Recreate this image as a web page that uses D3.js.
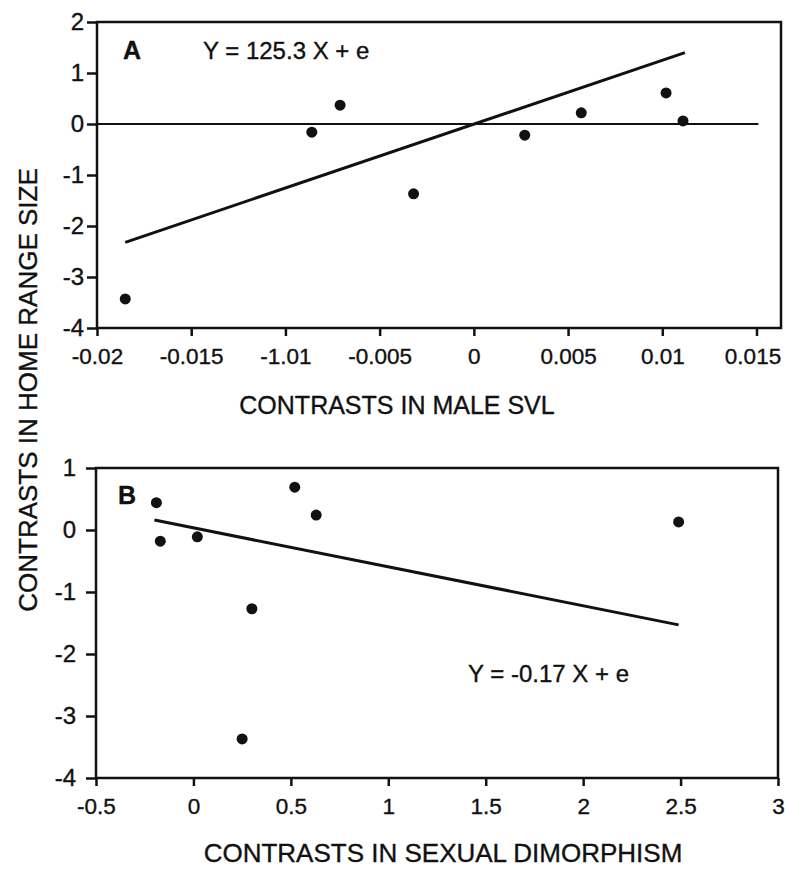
<!DOCTYPE html>
<html>
<head>
<meta charset="utf-8">
<script src="https://cdn.jsdelivr.net/npm/d3@7"></script>
<style>
  body { margin: 0; background: #fff; }
  text { font-family: "Liberation Sans", Arial, sans-serif; fill: #111; stroke: #111; stroke-width: 0.35px; }
</style>
</head>
<body>
<div id="chart"></div>
<script>
// panel A data: contrasts in male SVL vs home range size
var svlX = [-0.0185, -0.0086, -0.0071, -0.0032, 0.0027, 0.0057, 0.0102, 0.0111];
var homeA = [-3.43, -0.16, 0.37, -1.37, -0.22, 0.22, 0.61, 0.06];
var fitA = [[-0.0185, -2.32], [0.0112, 1.40]];
var xTicksA = [-0.02, -0.015, -0.01, -0.005, 0, 0.005, 0.01, 0.015];
var xLabelsA = ["-0.02", "-0.015", "-1.01", "-0.005", "0", "0.005", "0.01", "0.015"];
var yTicksA = [2, 1, 0, -1, -2, -3, -4];

// panel B data: contrasts in sexual dimorphism vs home range size
var dimX = [-0.19, -0.17, 0.02, 0.52, 0.63, 0.30, 0.25, 2.49];
var homeB = [0.44, -0.18, -0.11, 0.69, 0.24, -1.27, -3.37, 0.13];
var fitB = [[-0.2, 0.16], [2.49, -1.53]];
var xTicksB = [-0.5, 0, 0.5, 1, 1.5, 2, 2.5, 3];
var yTicksB = [1, 0, -1, -2, -3, -4];

var W = 785, H = 877;

var svg = d3.select("#chart")
  .append("svg")
  .attr("width", W)
  .attr("height", H);

// scales
var xA = d3.scaleLinear().domain([-0.02, 0.0163]).range([97, 781]);
var yA = d3.scaleLinear().domain([-4, 2]).range([328, 22]);
var xB = d3.scaleLinear().domain([-0.5, 3]).range([96, 778]);
var yB = d3.scaleLinear().domain([-4, 1]).range([778, 468]);

function drawPanel(x, y, xs, ys, fit, xTicks, xLabels, yTicks, yPad) {
  var g = svg.append("g");
  var x0 = x.range()[0], x1 = x.range()[1];
  var y0 = y.range()[0], y1 = y.range()[1];

  // x axis
  g.append("g")
    .attr("transform", "translate(0," + y0 + ")")
    .call(d3.axisBottom(x).tickValues(xTicks)
      .tickFormat(function(d, i) { return xLabels ? xLabels[i] : String(d); })
      .tickSize(8).tickSizeOuter(0).tickPadding(12))
    .call(function(a) { a.select(".domain").remove(); })
    .call(function(a) {
      a.selectAll("line").attr("stroke", "#111").attr("stroke-width", 2.5);
      a.selectAll("text").attr("font-size", 22.5).style("fill", "#111");
    });

  // y axis
  g.append("g")
    .attr("transform", "translate(" + x0 + ",0)")
    .call(d3.axisLeft(y).tickValues(yTicks).tickFormat(function(d) { return String(d); })
      .tickSize(10).tickSizeOuter(0).tickPadding(yPad))
    .call(function(a) { a.select(".domain").remove(); })
    .call(function(a) {
      a.selectAll("line").attr("stroke", "#111").attr("stroke-width", 2.5);
      a.selectAll("text").attr("font-size", 24).style("fill", "#111");
    });

  // frame
  g.append("path")
    .attr("d", "M" + x0 + "," + y1 + "V" + y0 + "H" + x1 + "V" + y1 + "Z")
    .attr("fill", "none")
    .attr("stroke", "#111")
    .attr("stroke-width", 2.5);

  // regression line
  g.append("line")
    .attr("x1", x(fit[0][0])).attr("y1", y(fit[0][1]))
    .attr("x2", x(fit[1][0])).attr("y2", y(fit[1][1]))
    .attr("stroke", "#111")
    .attr("stroke-width", 3);

  // points
  g.selectAll("circle")
    .data(xs)
    .enter()
    .append("circle")
    .attr("cx", function(d) { return x(d); })
    .attr("cy", function(d, i) { return y(ys[i]); })
    .attr("r", 5.5)
    .attr("fill", "#111");

  return g;
}

var gA = drawPanel(xA, yA, svlX, homeA, fitA, xTicksA, xLabelsA, yTicksA, 3);
var gB = drawPanel(xB, yB, dimX, homeB, fitB, xTicksB, null, yTicksB, 10);

// keep the last panel A label inside the page
gA.selectAll(".tick text").filter(function(d) { return d === 0.015; }).attr("dx", -4);

// zero reference line in panel A
gA.append("line")
  .attr("x1", xA(-0.02)).attr("y1", yA(0))
  .attr("x2", xA(0.0151)).attr("y2", yA(0))
  .attr("stroke", "#111")
  .attr("stroke-width", 2);

// panel letters and equations
svg.append("text").attr("x", 123).attr("y", 59)
  .attr("font-size", 25).attr("font-weight", "bold").text("A");
svg.append("text").attr("x", 203).attr("y", 59)
  .attr("font-size", 24).text("Y = 125.3 X + e");

svg.append("text").attr("x", 118).attr("y", 504)
  .attr("font-size", 25).attr("font-weight", "bold").text("B");
svg.append("text").attr("x", 468).attr("y", 682)
  .attr("font-size", 24).text("Y = -0.17 X + e");

// axis titles
svg.append("text")
  .attr("x", 397).attr("y", 414)
  .attr("text-anchor", "middle")
  .attr("font-size", 25)
  .text("CONTRASTS IN MALE SVL");

svg.append("text")
  .attr("x", 443).attr("y", 862)
  .attr("text-anchor", "middle")
  .attr("font-size", 26)
  .text("CONTRASTS IN SEXUAL DIMORPHISM");

svg.append("text")
  .attr("transform", "translate(37,390) rotate(-90)")
  .attr("text-anchor", "middle")
  .attr("font-size", 26)
  .text("CONTRASTS IN HOME RANGE SIZE");
</script>
</body>
</html>
